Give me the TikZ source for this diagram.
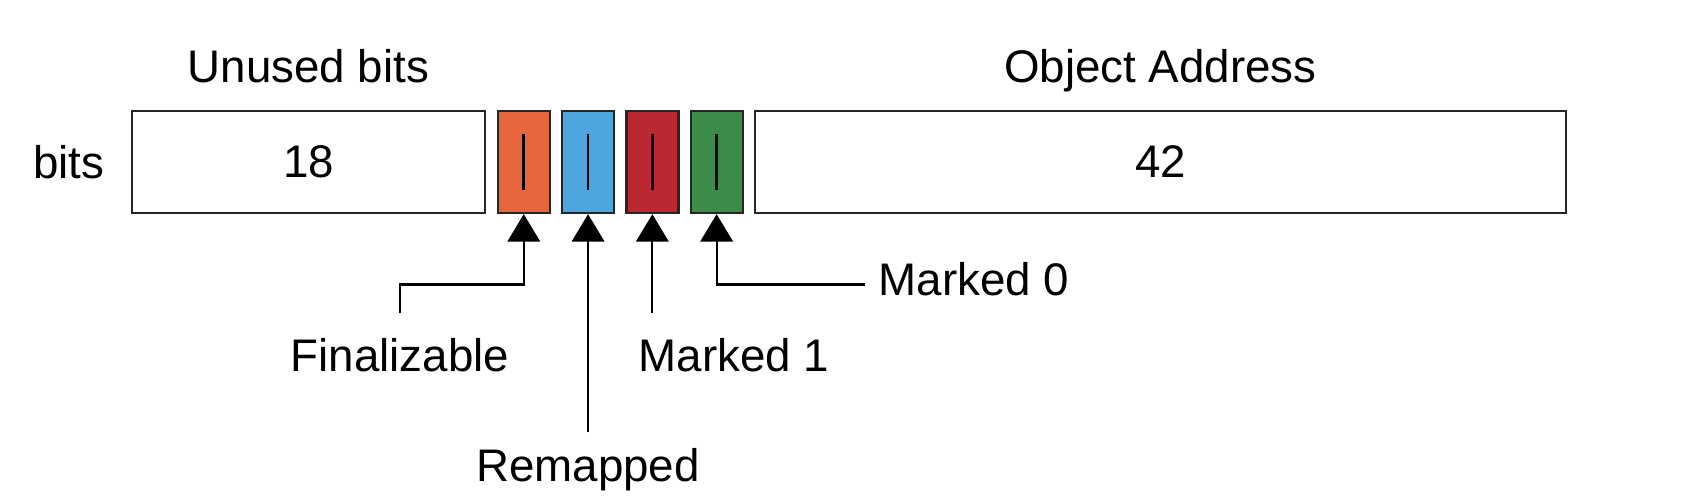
\documentclass[tikz,border=0pt]{standalone}
\usepackage{fontspec}
\setmainfont{Liberation Sans}
\usetikzlibrary{arrows.meta,positioning,calc}
\definecolor{finorange}{RGB}{229,103,59}
\definecolor{remblue}{RGB}{77,166,222}
\definecolor{mkred}{RGB}{188,40,50}
\definecolor{mkgreen}{RGB}{58,140,72}
\newcommand{\bitfont}{\fontsize{26}{31}\selectfont}
\tikzset{
  field/.style={draw=black!85,line width=1.3pt,minimum height=2.04cm,
                inner sep=0pt,font=\bitfont},
  flag/.style={field,minimum width=1.04cm},
  lbl/.style={font=\bitfont,inner sep=2pt},
  ptr/.style={-{Triangle[width=6.5mm,length=5.5mm]},line width=1.2pt},
}

\begin{document}
\begin{tikzpicture}
    \useasboundingbox (0,0) rectangle (33.92,-10);
    % the word, field by field
    \node[field,minimum width=7.06cm] (unused) at (6.17,-3.24) {18};
    \node[flag,fill=finorange,right=0.21cm of unused] (fin) {};
    \node[flag,fill=remblue,right=0.2cm of fin] (rem) {};
    \node[flag,fill=mkred,right=0.2cm of rem] (mkone) {};
    \node[flag,fill=mkgreen,right=0.2cm of mkone] (mkzero) {};
    \node[field,minimum width=16.22cm,right=0.2cm of mkzero] (addr) {42};
    \foreach \b in {fin,rem,mkone,mkzero}
      \draw[line width=1.5pt] ([yshift=-4.8mm]\b.north) -- ([yshift=4.8mm]\b.south);
    % headings
    \node[lbl,anchor=base] (unusedlbl) at ([yshift=5.5mm]unused.north) {Unused bits};
    \node[lbl,anchor=base] (addrlbl) at ([yshift=5.5mm]addr.north) {Object Address};
    \node[lbl,left=0.45cm of unused] (bitslbl) {bits};
    % pointers to the flag bits
    \coordinate (finend) at (8.0,-6.27);
    \node[lbl,below=0.42cm of finend] (finlbl) {Finalizable};
    \draw[ptr] (finend) -- ++(0,0.58) -| (fin.south);
    \coordinate (remend) at (rem.south |- 0,-8.65);
    \node[lbl,below=0.25cm of remend] (remlbl) {Remapped};
    \draw[ptr] (remend) -- (rem.south);
    \coordinate (mkoneend) at (mkone.south |- finend);
    \node[lbl,anchor=north west] (mkonelbl) at ([xshift=-0.35cm,yshift=-0.42cm]mkoneend) {Marked 1};
    \draw[ptr] (mkoneend) -- (mkone.south);
    \coordinate (mkzeroend) at (17.3,-5.69);
    \node[lbl,anchor=west] (mkzerolbl) at ([xshift=0.2cm,yshift=0.1cm]mkzeroend) {Marked 0};
    \draw[ptr] (mkzeroend) -| (mkzero.south);
\end{tikzpicture}
\end{document}
